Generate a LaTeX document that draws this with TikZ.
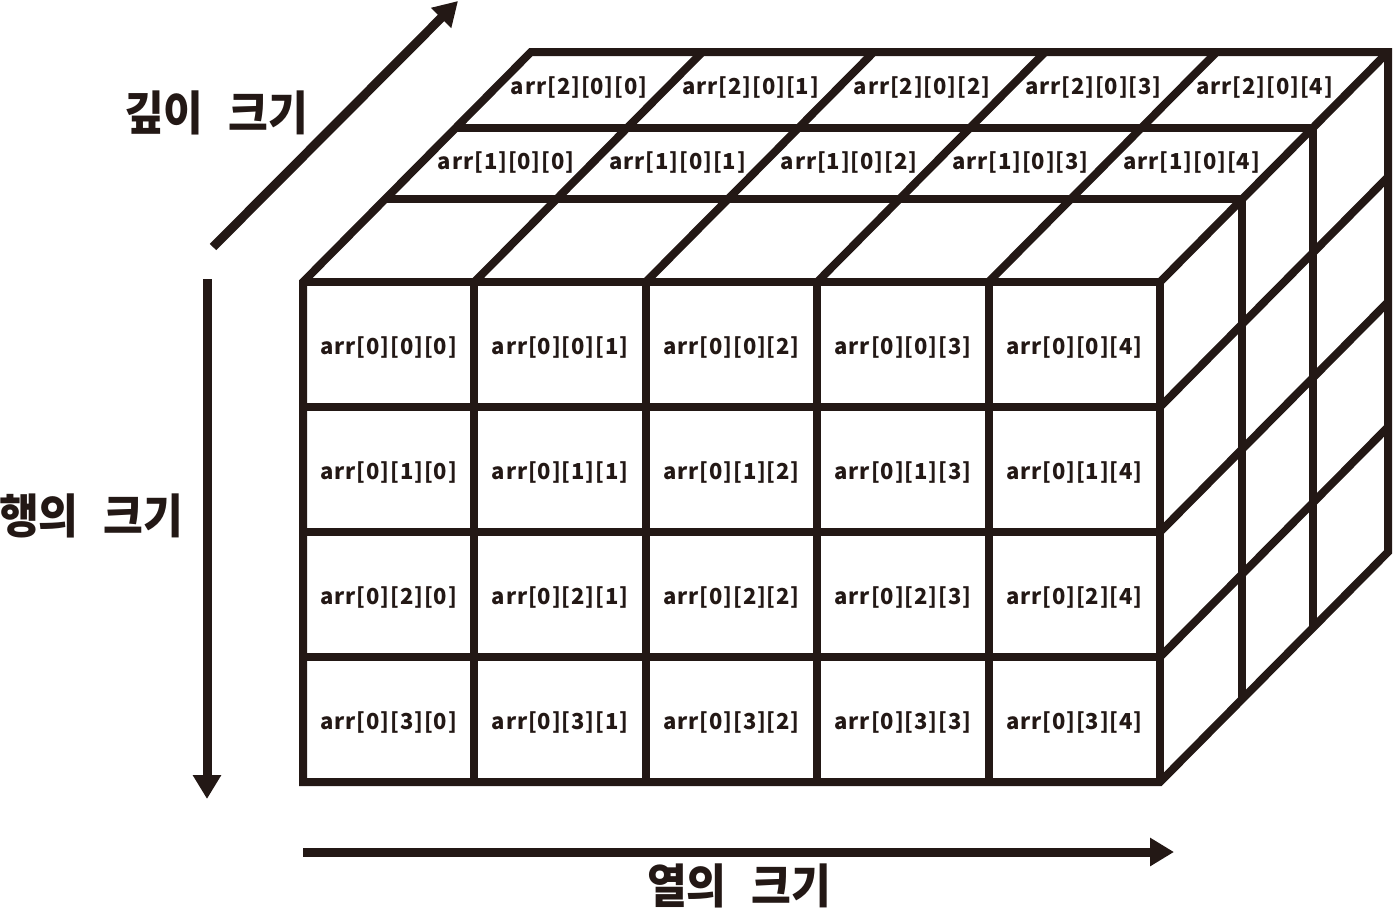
\documentclass[tikz,border=0pt]{standalone}
\usepackage{fontspec}
\usetikzlibrary{arrows.meta}
\newfontfamily\krfont{Noto Sans CJK KR}[FakeStretch=0.92,WordSpace=2.5]
\newfontfamily\labfont{Noto Sans CJK KR}[LetterSpace=4]
\definecolor{ink}{HTML}{231815}
\begin{document}
\begin{tikzpicture}[x=1pt,y=-1pt,
  gridline/.style={draw=ink,line width=8pt,line join=miter},
  cell/.style={font=\labfont\bfseries\fontsize{22}{22}\selectfont,text=ink,inner sep=0pt},
  axislabel/.style={font=\krfont\bfseries\fontsize{47}{47}\selectfont,text=ink,inner sep=0pt},
  axisarrow/.style={draw=ink,line width=9pt,-{Triangle[length=24pt,width=27pt]}}]
\useasboundingbox (0,0) rectangle (1393,908);
\def\cw{171.4}
\def\rh{125}
% outline
\draw[gridline] (303,282) -- (303,782) -- (1160,782) -- (1388,552) -- (1388,52) -- (531,52) -- cycle;
\draw[gridline] (303,282) -- (1160,282) -- (1160,782);
\draw[gridline] (1160,282) -- (1388,52);
% front grid
\foreach \c in {1,...,4} \draw[gridline] ({303+\cw*\c},282) -- ({303+\cw*\c},782);
\foreach \r in {1,...,3} \draw[gridline] (303,{282+\rh*\r}) -- (1160,{282+\rh*\r});
% top face
\draw[gridline] (385,199) -- (1242,199) -- (1242,699);
\draw[gridline] (456,128) -- (1313,128) -- (1313,628);
\foreach \c in {1,...,4} \draw[gridline] ({303+\cw*\c},282) -- ({531+\cw*\c},52);
% right face
\foreach \r in {1,...,3} \draw[gridline] (1160,{282+\rh*\r}) -- (1388,{52+\rh*\r});
% front labels
\foreach \r in {0,...,3}{
  \foreach \c in {0,...,4}{
    \node[cell] (f\r\c) at ({303+\cw*\c+\cw/2},{282+\rh*\r+\rh/2+3}) {arr[0][\r][\c]};
  }
}
% top labels
\foreach \c in {0,...,4}{
  \node[cell] (ta\c) at ({303+\cw*\c+\cw/2+117.5},{282-119}) {arr[1][0][\c]};
  \node[cell] (tb\c) at ({303+\cw*\c+\cw/2+190.5},{282-194}) {arr[2][0][\c]};
}
% axis labels
\node[axislabel] (depth) at (216,113) {깊이 크기};
\node[axislabel] (rows) at (91,516) {행의 크기};
\node[axislabel] (cols) at (739,886) {열의 크기};
% arrows
\coordinate (dA) at (213,247);
\coordinate (dB) at (458,1);
\coordinate (rA) at (207,279);
\coordinate (rB) at (207,799);
\coordinate (cA) at (303,852);
\coordinate (cB) at (1174,852);
\draw[axisarrow] (dA) -- (dB);
\draw[axisarrow] (rA) -- (rB);
\draw[axisarrow] (cA) -- (cB);
\end{tikzpicture}
\end{document}
